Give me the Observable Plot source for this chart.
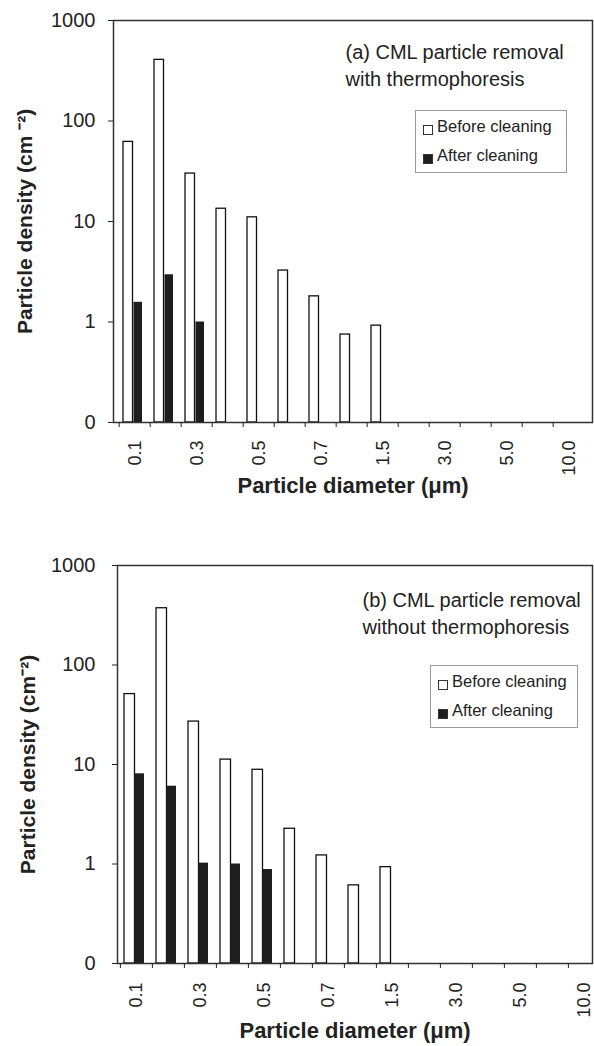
<!DOCTYPE html>
<html><head><meta charset="utf-8">
<script src="https://cdn.jsdelivr.net/npm/d3@7"></script>
<script src="https://cdn.jsdelivr.net/npm/@observablehq/plot@0.6"></script>
<style>
body{margin:0;background:#fff;}
#wrap{position:relative;width:594px;height:1046px;overflow:hidden;font-family:"Liberation Sans",Arial,sans-serif;color:#222;background:#fff;}
.panel{position:absolute;left:0;width:594px;height:523px;}
.legend{position:absolute;border:1px solid #9a9a9a;background:#fff;font-size:16.5px;box-sizing:border-box;padding-top:1px;}
.legend .row{height:29px;display:flex;align-items:center;white-space:nowrap;}
.legend .sw{width:10px;height:10px;box-sizing:border-box;border:1px solid #333;margin:7px 4px 0 7px;flex:none;}
</style></head><body><div id="wrap"></div>
<script>
const diameters = ["0.1","0.2","0.3","0.4","0.5","0.6","0.7","1.0","1.5","2.0","3.0","4.0","5.0","7.0","10.0"];
const tickLabels = ["0.1","0.3","0.5","0.7","1.5","3.0","5.0","10.0"];
const yTicks = [0.1, 1, 10, 100, 1000];
const series = ["Before cleaning", "After cleaning"];
const seriesFill = ["#ffffff", "#1e1e1e"];

const beforeA = [62, 406, 30, 13.4, 11, 3.25, 1.8, 0.75, 0.92];
const afterA  = [1.57, 2.95, 1.0];
const beforeB = [51, 372, 27, 11.2, 8.85, 2.26, 1.22, 0.61, 0.93];
const afterB  = [8.06, 6.05, 1.02, 1.0, 0.88];

const titleA = "(a) CML particle removal\nwith thermophoresis";
const titleB = "(b) CML particle removal\nwithout thermophoresis";
const yLabelA = "Particle density (cm \u207B\u00B2)";
const yLabelB = "Particle density (cm\u207B\u00B2)";
const xLabel = "Particle diameter (\u03BCm)";

const wrap = document.getElementById("wrap");

function panel(cfg) {
  const before = cfg.before.map((v, i) => ({d: diameters[i], v}));
  const after = cfg.after.map((v, i) => ({d: diameters[i], v}));
  const bw = (cfg.xr[1] - cfg.xr[0]) / diameters.length;
  const svg = Plot.plot({
    width: 594, height: 523,
    marginTop: cfg.mt, marginBottom: cfg.mb, marginLeft: cfg.ml, marginRight: cfg.mr,
    style: {fontFamily: '"Liberation Sans", Arial, sans-serif', color: "#222", background: "transparent", overflow: "hidden"},
    x: {domain: diameters, range: cfg.xr, padding: 0, axis: null},
    y: {type: "log", domain: [0.1, 1000], axis: null},
    marks: [
      Plot.barY(before, {x: "d", y1: 0.1, y2: "v", fill: seriesFill[0], stroke: "#111", strokeWidth: 1.3, insetLeft: 4, insetRight: 17.5}),
      Plot.barY(after, {x: "d", y1: 0.1, y2: "v", fill: seriesFill[1], insetLeft: 14.5, insetRight: 8}),
      Plot.frame({stroke: "#333", strokeWidth: 1.5}),
      Plot.axisY({ticks: yTicks, tickSize: 5, tickPadding: cfg.ytp, fontSize: 20, label: null, tickFormat: d => d < 1 ? "0" : String(d)}),
      Plot.axisX({tickSize: 5, label: null, tickFormat: () => "", dx: -bw / 2}),
      Plot.axisX({ticks: tickLabels, tickSize: 0, label: null, tickRotate: -90, tickPadding: cfg.xtp, fontSize: 18}),
      Plot.text([cfg.yLabel], {frameAnchor: "left", dx: -(cfg.ml - cfg.ylx), rotate: -90, textAnchor: "middle", lineAnchor: "middle", fontSize: 21, fontWeight: "bold"}),
      Plot.text([xLabel], {frameAnchor: "bottom", dy: cfg.xld, textAnchor: "middle", lineAnchor: "middle", fontSize: 22, fontWeight: "bold"}),
      Plot.text([cfg.title], {frameAnchor: "top-left", dx: cfg.tx, dy: cfg.ty, textAnchor: "start", lineAnchor: "top", lineHeight: 1.35, fontSize: 20})
    ]
  });
  const div = document.createElement("div");
  div.className = "panel";
  div.style.top = cfg.top + "px";
  div.appendChild(svg);
  wrap.appendChild(div);

  const lg = document.createElement("div");
  lg.className = "legend";
  Object.assign(lg.style, {left: cfg.lg[0] + "px", top: cfg.lg[1] + "px", width: cfg.lg[2] + "px", height: cfg.lg[3] + "px"});
  series.forEach((s, i) => {
    const r = document.createElement("div");
    r.className = "row";
    const sw = document.createElement("span");
    sw.className = "sw";
    sw.style.background = seriesFill[i];
    const t = document.createElement("span");
    t.textContent = s;
    r.appendChild(sw); r.appendChild(t);
    lg.appendChild(r);
  });
  wrap.appendChild(lg);
}

panel({before: beforeA, after: afterA, title: titleA, yLabel: yLabelA, top: 0,
  mt: 20, mb: 101, ml: 113, mr: 2, xr: [114, 589], ytp: 13, xtp: 18, ylx: 25, xld: 63,
  tx: 232, ty: 19, lg: [415, 110, 152, 63]});
panel({before: beforeB, after: afterB, title: titleB, yLabel: yLabelB, top: 523,
  mt: 42, mb: 83, ml: 117, mr: 2, xr: [118, 601], ytp: 17, xtp: 19, ylx: 28, xld: 67,
  tx: 245, ty: 22, lg: [430, 665, 148, 63]});
</script></body></html>
